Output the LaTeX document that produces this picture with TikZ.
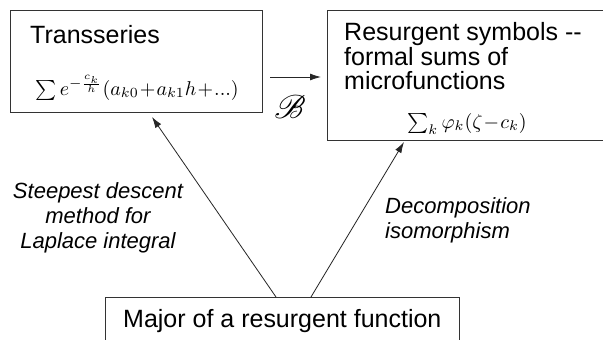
\documentclass[tikz,border=0pt]{standalone}
\usepackage[no-math]{fontspec}
\setmainfont{Liberation Sans}
\usepackage{graphicx}
\usepackage{mathrsfs}
\usetikzlibrary{arrows.meta}
\begin{document}
\begin{tikzpicture}[x=1pt,y=-1pt,
  box/.style={draw=black!80,line width=0.9pt,inner sep=0pt,anchor=north west},
  txt/.style={inner sep=0pt,font=\fontsize{25}{24}\selectfont},
  mth/.style={inner sep=0pt,font=\normalsize},
  lbl/.style={inner sep=0pt,font=\fontsize{22}{25}\selectfont\itshape},
  conn/.style={draw=black!85,line width=0.8pt,-{Latex[length=11pt,width=7pt]}}]
\useasboundingbox (0,0) rectangle (603,340);
\clip (0,0) rectangle (603,340);
\fill[white] (0,0) rectangle (603,340);
% boxes
\node[box,minimum width=252pt,minimum height=102pt] (trans) at (10,10) {};
\node[box,minimum width=300pt,minimum height=130pt] (resur) at (327,10) {};
\node[box,minimum width=354pt,minimum height=60pt] (major) at (105,297) {};
% texts
\node[txt,anchor=base west] (t1) at (30,43) {Transseries};
\node[mth,anchor=base] (f1) at (137,95) {\scalebox{2.0}{$\sum e^{-\frac{c_k}{h}}(a_{k0}\!+\!a_{k1}h\!+\!...)$}};
\node[txt,anchor=base west] (r1) at (344,41) {Resurgent symbols {-}{-}};
\node[txt,anchor=base west] (r2) at (344,65) {formal sums of};
\node[txt,anchor=base west] (r3) at (344,89) {microfunctions};
\node[mth,anchor=base] (f2) at (467,128) {\scalebox{2.0}{$\sum_k \varphi_k(\zeta\!-\!c_k)$}};
\node[txt,anchor=base west] (m1) at (123,327) {Major of a resurgent function};
\node[lbl,anchor=base] (s1) at (98,198) {Steepest descent};
\node[lbl,anchor=base] (s2) at (98,223) {method for};
\node[lbl,anchor=base] (s3) at (98,248) {Laplace integral};
\node[lbl,anchor=base west] (d1) at (385,213) {Decomposition};
\node[lbl,anchor=base west] (d2) at (385,238) {isomorphism};
\node[mth] (B) at (290,107) {\scalebox{3.3}{$\mathscr{B}$}};
% connectors
\coordinate (bA) at (270,77);
\coordinate (bB) at (321,77);
\draw[conn] (bA) -- (bB);
\coordinate (lA) at (276,297);
\coordinate (lB) at (152,117);
\draw[conn] (lA) -- (lB);
\coordinate (rA) at (311,297);
\coordinate (rB) at (404,142);
\draw[conn] (rA) -- (rB);
\end{tikzpicture}
\end{document}
